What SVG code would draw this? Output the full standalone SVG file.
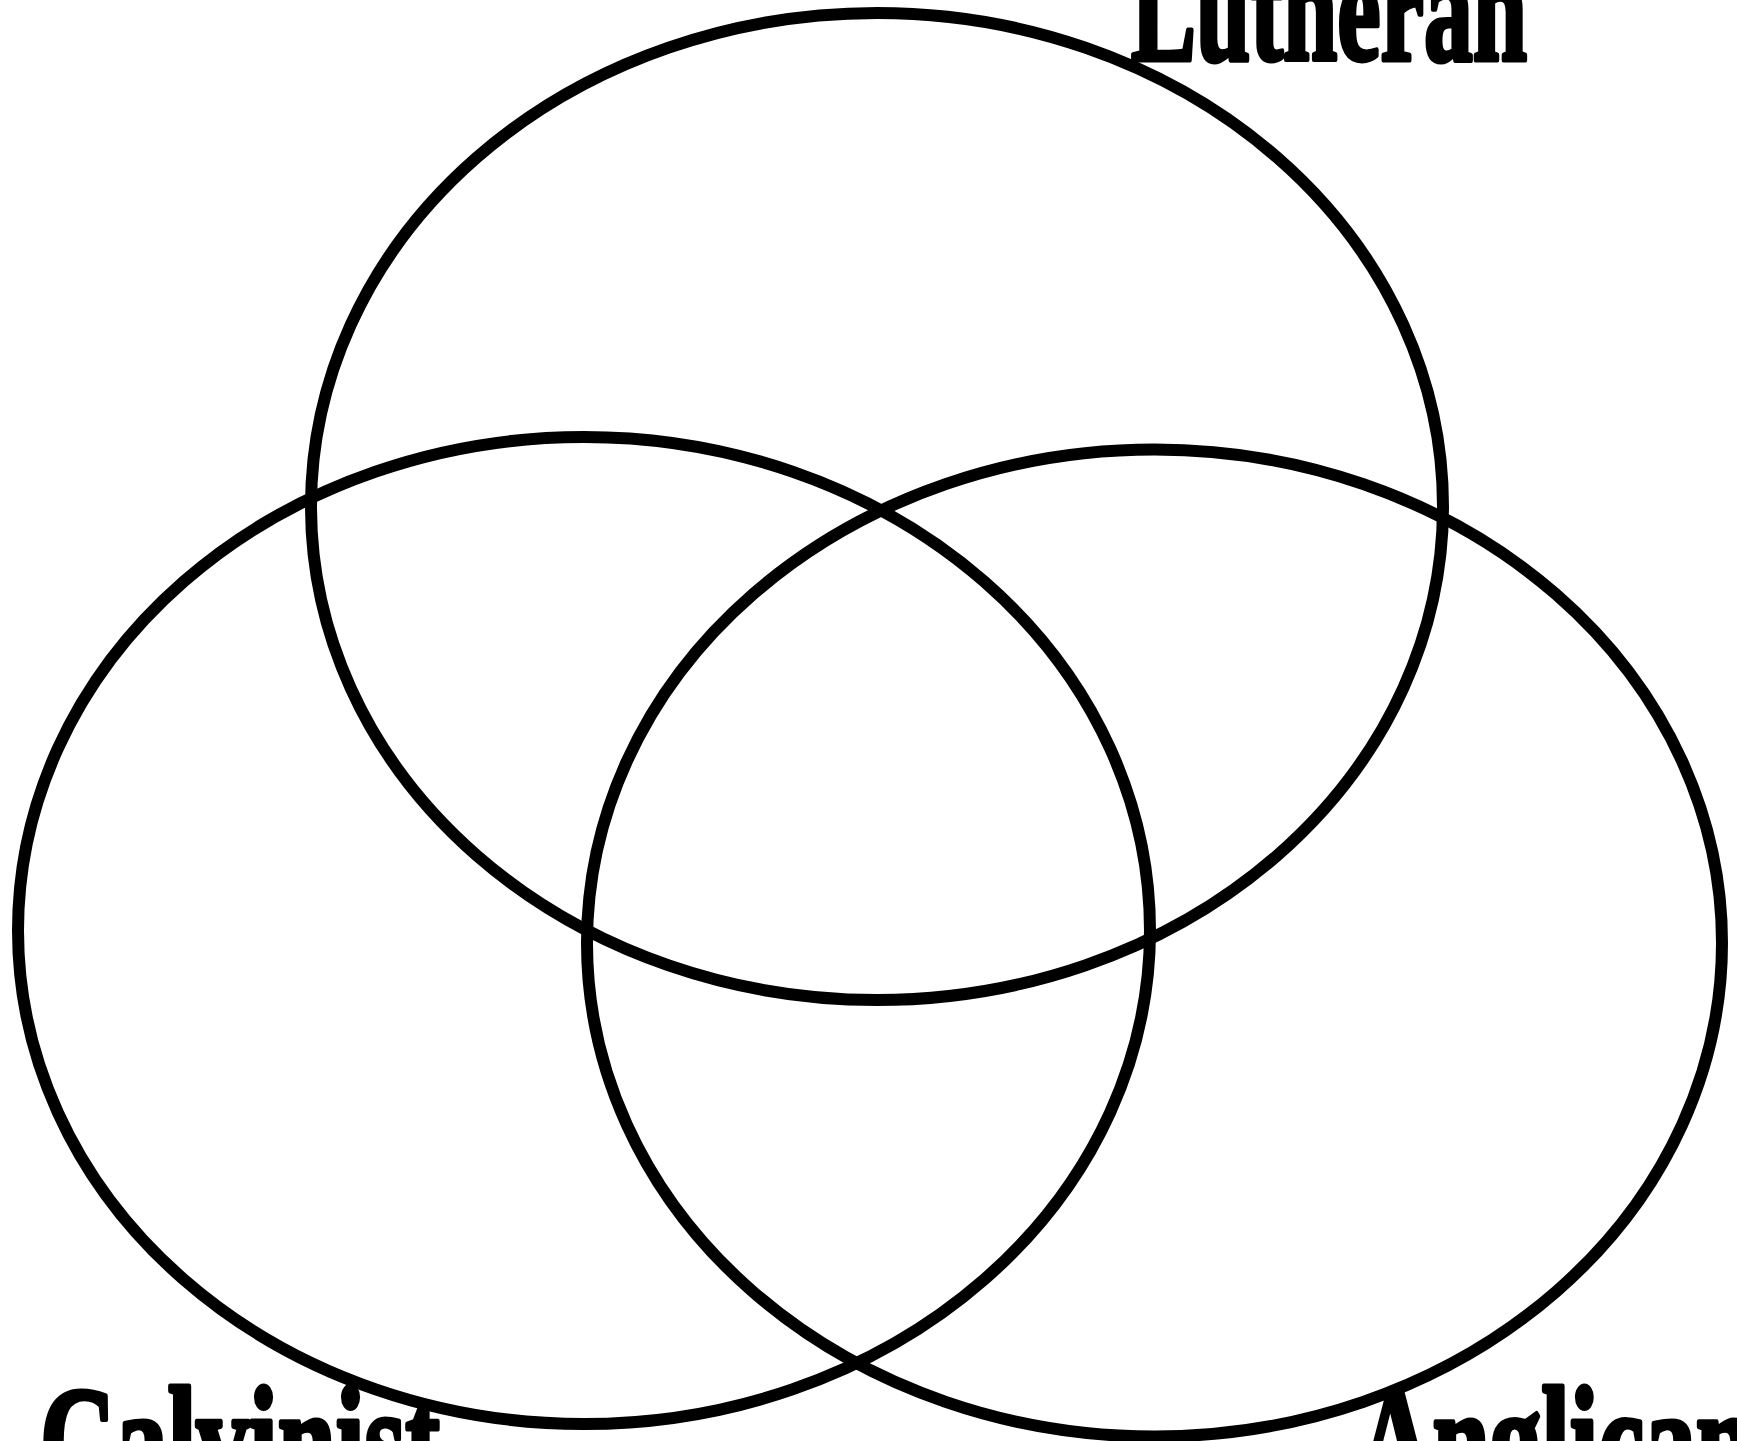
<svg xmlns="http://www.w3.org/2000/svg" width="1737" height="1441" viewBox="0 0 1737 1441">
<style>
.set{fill:none;stroke:#000;stroke-width:12}
.lbl{font-family:"Liberation Serif","Times New Roman",serif;font-weight:bold;font-size:150px;fill:#000;stroke:#000;stroke-width:5;stroke-linejoin:round}
</style>
<rect width="1737" height="1441" fill="#fff"/>
<g id="lutheran">
<ellipse class="set" cx="877" cy="506.5" rx="566" ry="493.5"/>
<text class="lbl" x="1131" y="60" textLength="396" lengthAdjust="spacingAndGlyphs">Lutheran</text>
</g>
<g id="calvinist">
<ellipse class="set" cx="584" cy="930.5" rx="566" ry="493.5"/>
<text class="lbl" x="40" y="1491" textLength="400" lengthAdjust="spacingAndGlyphs">Calvinist</text>
</g>
<g id="anglican">
<ellipse class="set" cx="1154.5" cy="943" rx="567.5" ry="493.5"/>
<text class="lbl" x="1358" y="1491" textLength="395" lengthAdjust="spacingAndGlyphs">Anglican</text>
</g>
<g id="connectors"/>
</svg>
